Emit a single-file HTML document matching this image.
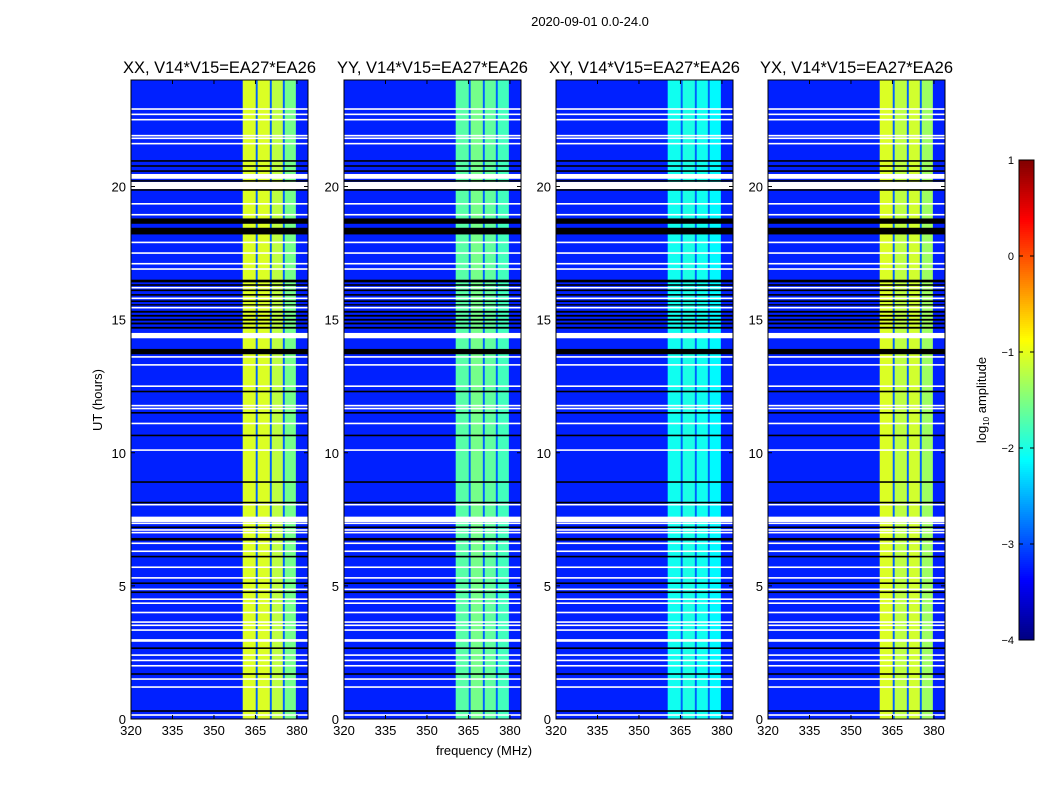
<!DOCTYPE html>
<html><head><meta charset="utf-8">
<style>
body{margin:0;background:#fff;}
svg text{font-family:"Liberation Sans",sans-serif;fill:#000;}
</style></head>
<body>
<svg id="fig" width="1050" height="800" xmlns="http://www.w3.org/2000/svg">
<rect width="1050" height="800" fill="#fff"/>
<text x="590" y="26" font-size="13" text-anchor="middle">2020-09-01 0.0-24.0</text>
<text x="484" y="755" font-size="13" text-anchor="middle">frequency (MHz)</text>
<text x="102" y="400" font-size="13" text-anchor="middle" transform="rotate(-90 102 400)">UT (hours)</text>
<g id="panels"></g>
<g id="cbar"></g>
</svg>
<script>
const panelTitles=["XX, V14*V15=EA27*EA26","YY, V14*V15=EA27*EA26","XY, V14*V15=EA27*EA26","YX, V14*V15=EA27*EA26"];
const bandStart=[360.4,365.8,370.9,375.6];
const bandEnd=[365.1,370.2,374.9,379.6];
const ampXX=[-1.05,-1.05,-1.2,-1.55];
const ampYY=[-1.7,-1.55,-1.65,-1.8];
const ampXY=[-2.05,-2.0,-2.05,-2.15];
const ampYX=[-1.05,-1.2,-1.1,-1.35];
const panelAmps=[ampXX,ampYY,ampXY,ampYX];
const bgAmp=[-3.22,-3.22,-3.22,-3.22];
const gapAmp=-2.9;
const xTicks=[320,335,350,365,380];
const yTicks=[0,5,10,15,20];
const cbTicks=[1,0,-1,-2,-3,-4];
// flagged time rows: [startHour, endHour, 'w' white / 'b' black]
const rows=[[22.88,22.94,'w'],[22.68,22.74,'w'],[22.48,22.54,'w'],[21.88,21.94,'w'],[21.78,21.84,'w'],[21.58,21.64,'w'],
[20.93,20.99,'b'],[20.74,20.8,'b'],[20.55,20.61,'b'],[20.29,20.47,'w'],[20.18,20.24,'b'],[19.9,20.17,'w'],[19.84,19.9,'b'],
[19.32,19.38,'w'],[18.91,18.97,'w'],[18.6,18.8,'b'],[18.2,18.45,'b'],[17.87,17.93,'w'],[17.47,17.53,'w'],[17.07,17.13,'w'],[16.87,16.93,'w'],
[16.4,16.5,'b'],[16.27,16.33,'b'],[16.17,16.23,'w'],[16.07,16.13,'b'],[15.9,15.96,'b'],[15.77,15.83,'w'],[15.66,15.72,'b'],[15.53,15.58,'b'],[15.42,15.48,'w'],
[15.26,15.33,'b'],[15.11,15.18,'b'],[14.96,15.03,'b'],[14.82,14.89,'b'],[14.66,14.73,'b'],[14.3,14.5,'w'],[13.7,13.9,'b'],[13.57,13.63,'w'],[13.27,13.33,'w'],
[12.47,12.53,'w'],[12.27,12.33,'b'],[11.74,11.8,'w'],[11.63,11.69,'w'],[11.47,11.53,'b'],[11.07,11.13,'w'],[10.62,10.68,'b'],[10.07,10.13,'w'],
[8.87,8.93,'b'],[8.1,8.16,'b'],[8.02,8.08,'w'],[7.4,7.6,'w'],[7.32,7.38,'w'],[7.17,7.23,'b'],[7.07,7.13,'w'],[6.97,7.03,'w'],[6.7,6.8,'b'],[6.57,6.63,'w'],
[6.27,6.33,'w'],[6.07,6.13,'b'],[5.67,5.73,'w'],[5.27,5.33,'w'],[5.07,5.13,'b'],[4.84,4.9,'w'],[4.73,4.79,'b'],[4.47,4.53,'w'],[4.32,4.38,'w'],[3.97,4.03,'w'],
[3.61,3.67,'w'],[3.49,3.55,'w'],[3.31,3.37,'w'],[2.9,3.0,'w'],[2.63,2.69,'b'],[2.37,2.43,'w'],[2.17,2.23,'w'],[1.97,2.03,'w'],[1.66,1.72,'b'],[1.47,1.53,'w'],
[1.17,1.23,'w'],[0.27,0.33,'b'],[0.12,0.18,'w']];

const NS="http://www.w3.org/2000/svg";
function mk(tag,attrs,parent){const e=document.createElementNS(NS,tag);for(const k in attrs)e.setAttribute(k,attrs[k]);parent.appendChild(e);return e;}
function jet(v){let t=(v+4)/5;t=Math.max(0,Math.min(1,t));
 const c=x=>Math.max(0,Math.min(1,x));
 const r=c(1.5-Math.abs(4*t-3)),g=c(1.5-Math.abs(4*t-2)),b=c(1.5-Math.abs(4*t-1));
 return `rgb(${Math.round(r*255)},${Math.round(g*255)},${Math.round(b*255)})`;}
const panelX=[131,344,556,768],PW=177,PT=80,PH=639,FMIN=320,FMAX=384,TMAX=24;
const panels=document.getElementById('panels');
panelTitles.forEach((title,p)=>{
 const x0=panelX[p];
 const xs=f=>x0+(f-FMIN)/(FMAX-FMIN)*PW;
 const ys=h=>PT+PH-(h/TMAX)*PH;
 const g=mk('g',{},panels);
 
 
 const bg=mk('rect',{x:x0,y:PT,width:PW,height:PH,fill:jet(bgAmp[p])},g);
 
 
 const gap=mk('rect',{x:xs(bandStart[0]),y:PT,width:xs(bandEnd[3])-xs(bandStart[0]),height:PH,fill:jet(gapAmp)},g);
 
 
 panelAmps[p].forEach((a,i)=>{
  const r=mk('rect',{x:xs(bandStart[i]),y:PT,width:xs(bandEnd[i])-xs(bandStart[i]),height:PH,fill:jet(a)},g);
  
  
 });
 rows.forEach(rw=>{
  const r=mk('rect',{x:x0,y:ys(rw[1]),width:PW,height:Math.max(1.2,ys(rw[0])-ys(rw[1])),fill:rw[2]==='w'?'#fff':'#000'},g);
  
  
 });
 const fr=mk('rect',{x:x0,y:PT,width:PW,height:PH,fill:'none',stroke:'#000','stroke-width':1},g);
 
 
 const t=mk('text',{x:x0+PW/2,y:PT-7,'font-size':16.5,'text-anchor':'middle'},g);
 t.textContent=title;
 
 
 xTicks.forEach(v=>{
  const X=xs(v);
  mk('line',{x1:X,y1:PT+PH,x2:X,y2:PT+PH-4,stroke:'#000'},g);
  mk('line',{x1:X,y1:PT,x2:X,y2:PT+4,stroke:'#000'},g);
  const l=mk('text',{x:X,y:PT+PH+16,'font-size':13,'text-anchor':'middle'},g);
  l.textContent=v;
  
  
 });
 yTicks.forEach(v=>{
  const Y=ys(v);
  mk('line',{x1:x0,y1:Y,x2:x0+4,y2:Y,stroke:'#000'},g);
  mk('line',{x1:x0+PW,y1:Y,x2:x0+PW-4,y2:Y,stroke:'#000'},g);
  const l=mk('text',{x:x0-5,y:Y+5,'font-size':13,'text-anchor':'end'},g);
  l.textContent=v;
  
  
 });
});
// colorbar
const cb=document.getElementById('cbar');


const CX=1019,CW=15,CT=160,CH=480,VMIN=-4,VMAX=1;
const cy=v=>CT+(VMAX-v)/(VMAX-VMIN)*CH;
for(let i=0;i<CH;i+=2){const v=VMAX-(i+1)/CH*(VMAX-VMIN);mk('rect',{x:CX,y:CT+i,width:CW,height:2.2,fill:jet(v)},cb);}
mk('rect',{x:CX,y:CT,width:CW,height:CH,fill:'none',stroke:'#000'},cb);
cbTicks.forEach(v=>{
 const Y=cy(v);
 mk('line',{x1:CX,y1:Y,x2:CX+4,y2:Y,stroke:'#000'},cb);
 mk('line',{x1:CX+CW,y1:Y,x2:CX+CW-4,y2:Y,stroke:'#000'},cb);
 const l=mk('text',{x:CX-5,y:Y+4,'font-size':11,'text-anchor':'end'},cb);
 l.textContent=v<0?'\u2212'+(-v):v;
 
 
});
const lab=mk('text',{x:986,y:400,'font-size':13,'text-anchor':'middle',transform:'rotate(-90 986 400)'},cb);


lab.innerHTML='log<tspan font-size="8" dy="3">10</tspan><tspan dy="-3"> amplitude</tspan>';
</script>
</body></html>
